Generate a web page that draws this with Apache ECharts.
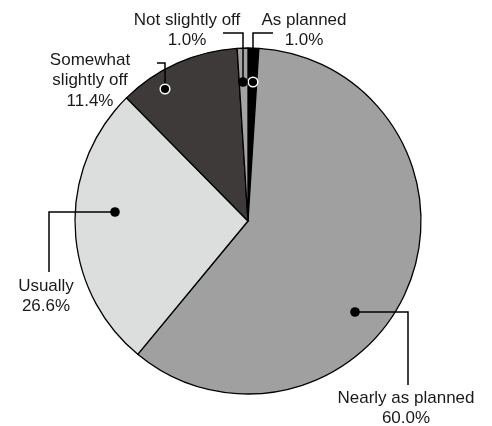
<!DOCTYPE html>
<html>
<head>
<meta charset="utf-8">
<script src="https://cdn.jsdelivr.net/npm/echarts@6/dist/echarts.min.js"></script>
<style>html,body{margin:0;padding:0;background:#fff;}#c{width:492px;height:426px;}</style>
</head>
<body>
<div id="c"></div>
<script>
// Data
const categories = ['As planned', 'Nearly as planned', 'Usually', 'Somewhat\nslightly off', 'Not slightly off'];
const values = [1.0, 60.0, 26.6, 11.4, 1.0];
const colors = ['#000000', '#a0a0a0', '#dcdddd', '#3e3a39', '#a3a3a3'];

// Annotation layout (pixels): dot, elbow corner, leader end, label anchor (top-center)
const dots    = [[253, 82], [355, 312], [115, 212], [165, 89], [243, 82]];
const corners = [[253, 33], [408, 312], [49, 212], [165, 63], [243, 33]];
const ends    = [[273, 33], [408, 385], [49, 272], [157, 63], [223, 33]];
const labelAt = [[304, 10], [406, 388], [46, 276], [90, 50], [187, 10]];
const ringed  = [true, false, false, true, false];

const chart = echarts.init(document.getElementById('c'), null, {renderer: 'canvas'});
const font = 'Liberation Sans, Arial, sans-serif';

const leaders = dots.map((d, i) => ({
  type: 'polyline',
  z: 99,
  shape: {points: [d, corners[i], ends[i]]},
  style: {stroke: '#000', lineWidth: 1.5, fill: null}
}));
const dotEls = dots.map((d, i) => ({
  type: 'circle',
  z: 100,
  shape: {cx: d[0], cy: d[1], r: ringed[i] ? 4.8 : 4.8},
  style: {fill: '#000', stroke: ringed[i] ? '#fff' : null, lineWidth: ringed[i] ? 1.5 : 0}
}));

chart.setOption({
  backgroundColor: '#fff',
  animation: false,
  series: [{
    type: 'pie',
    center: [248, 221],
    radius: 173,
    startAngle: 90,
    clockwise: true,
    avoidLabelOverlap: false,
    data: categories.map((n, i) => ({name: n, value: values[i], itemStyle: {color: colors[i]}})),
    itemStyle: {borderColor: '#000', borderWidth: 1.3},
    label: {
      show: true,
      position: 'outside',
      fontFamily: font,
      fontSize: 17,
      lineHeight: 20.5,
      color: '#1a1a1a',
      align: 'center',
      formatter: p => p.name + '\n' + values[p.dataIndex].toFixed(1) + '%'
    },
    labelLine: {show: false},
    labelLayout: function (params) {
      const i = params.dataIndex;
      return {
        x: labelAt[i][0],
        y: labelAt[i][1],
        align: 'center',
        verticalAlign: 'top'
      };
    },
    emphasis: {disabled: true}
  }],
  graphic: leaders.concat(dotEls)
});
</script>
</body>
</html>
